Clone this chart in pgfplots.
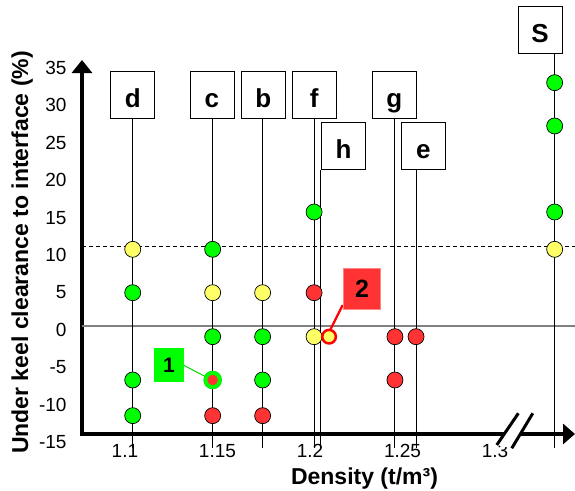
\documentclass[border=0pt]{standalone}
\usepackage{fontspec}
\setmainfont{Liberation Sans}
\usepackage{pgfplots}
\pgfplotsset{compat=1.18}
\usetikzlibrary{arrows.meta}

\definecolor{ptgreen}{RGB}{0,255,0}
\definecolor{ptyellow}{RGB}{255,255,102}
\definecolor{ptred}{RGB}{255,51,51}

\tikzset{
  lbl/.style={draw=black, line width=0.8pt, fill=white,
              minimum width=44pt, minimum height=47pt, inner sep=0pt,
              font=\bfseries\fontsize{26}{28}\selectfont,
              text height=24pt, text depth=0pt},
}
\pgfplotsset{
  stem/.style={black, line width=0.9pt, forget plot},
  dot/.style={only marks, mark=*, mark size=8pt},
}

\begin{document}
\begin{tikzpicture}[x=1pt,y=1pt]
\useasboundingbox (0,0) rectangle (575,490);
\begin{axis}[
  at={(82pt,56pt)}, anchor=south west,
  scale only axis, width=493pt, height=374pt,
  xmin=1.0768, xmax=1.3432, ymin=-15, ymax=35,
  clip=false,
  axis x line*=bottom, axis y line*=left,
  axis line style={line width=4.5pt, line cap=rect},
  x axis line style={-{Triangle[width=20pt,length=12pt]}},
  y axis line style={-{Triangle[width=20pt,length=13pt]}},
  xtick={1.1,1.15,1.2,1.25,1.3},
  xticklabels={1.1,1.15,1.2,1.25,1.3},
  ytick={-15,-10,-5,0,5,10,15,20,25,30,35},
  yticklabels={-15,-10,-5,0,5,10,15,20,25,30,35},
  major tick length=0pt,
  tick label style={font=\fontsize{19}{21}\selectfont},
  xticklabel style={yshift=-7pt},
  yticklabel style={xshift=-12pt, yshift=-8pt},
  /pgf/number format/assume math mode=true,
  xlabel={Density (t/m³)},
  xlabel style={at={(axis description cs:0.573,-0.136)}, anchor=base,
                font=\bfseries\fontsize{23}{25}\selectfont},
  ylabel={Under keel clearance to interface (\%)},
  ylabel style={at={(axis description cs:-0.1095,0.4853)}, anchor=base,
                font=\bfseries\fontsize{23}{25}\selectfont},
  after end axis/.code={
    % axis break on the density scale
    \fill[white] (axis cs:1.30092,-16.47) -- (axis cs:1.31259,-12.23)
                 -- (axis cs:1.32038,-12.23) -- (axis cs:1.30903,-16.91) -- cycle;
    \draw[line width=3pt] (axis cs:1.30092,-16.47) -- (axis cs:1.31259,-12.23);
    \draw[line width=3pt] (axis cs:1.30903,-16.91) -- (axis cs:1.32038,-12.23);
  },
]

% reference levels
\addplot[gray, line width=1.2pt, forget plot] coordinates {(1.0768,-0.56) (1.3432,-0.56)};
\addplot[black, line width=1pt, dash pattern=on 4pt off 3pt, forget plot]
  coordinates {(1.0768,10.13) (1.3432,10.13)};

% sample stems
\addplot[stem] coordinates {(1.1042,27.11) (1.1042,-16.87)};
\addplot[stem] coordinates {(1.1474,27.11) (1.1474,-16.87)};
\addplot[stem] coordinates {(1.1744,27.11) (1.1744,-16.87)};
\addplot[stem] coordinates {(1.2022,27.11) (1.2022,-16.87)};
\addplot[stem] coordinates {(1.2059,20.29) (1.2059,-16.87)};
\addplot[stem] coordinates {(1.2459,27.11) (1.2459,-16.87)};
\addplot[stem] coordinates {(1.2573,20.29) (1.2573,-16.87)};
\addplot[stem] coordinates {(1.3322,36.2) (1.3322,-16.87)};

% callout connectors
\draw[ptgreen!85!black, line width=1pt] (1.13151,-5.775) -- (1.14286,-7.246);
\draw[red, line width=2.2pt] (1.21768,2.246) -- (1.21043,-1.324);

% green outcomes
\addplot[dot, mark options={fill=ptgreen, draw=black, line width=0.7pt}] coordinates {
  (1.1042,3.89) (1.1042,-7.78) (1.1042,-12.55)
  (1.1474,9.69) (1.1474,-1.99)
  (1.1744,-1.99) (1.1744,-7.78)
  (1.2022,14.68)
  (1.3322,31.97) (1.3322,26.18) (1.3322,14.68)
};
% yellow outcomes
\addplot[dot, mark options={fill=ptyellow, draw=black, line width=0.7pt}] coordinates {
  (1.1042,9.69) (1.1474,3.89) (1.1744,3.89) (1.2022,-1.99) (1.3322,9.69)
};
% red outcomes
\addplot[dot, mark options={fill=ptred, draw=black, line width=0.7pt}] coordinates {
  (1.1474,-12.55) (1.1744,-12.55) (1.2022,3.89)
  (1.2459,-1.99) (1.2459,-7.78) (1.2573,-1.99)
};
% case 1
\addplot[only marks, mark=*, mark size=9pt,
  mark options={fill=ptgreen, draw=ptgreen!85!black, line width=0.5pt}] coordinates {(1.1474,-7.78)};
\addplot[only marks, mark=*, mark size=5pt,
  mark options={fill=ptred, draw=ptred}] coordinates {(1.1474,-7.78)};
% case 2
\addplot[only marks, mark=*, mark size=6.8pt,
  mark options={fill=ptyellow, draw=red, line width=2.5pt}] coordinates {(1.2103,-1.99)};

% sample labels
\node[lbl] at (1.1042,30.28) {d};
\node[lbl] at (1.1470,30.28) {c};
\node[lbl] at (1.1748,30.28) {b};
\node[lbl] at (1.2023,30.28) {f};
\node[lbl] at (1.2456,30.28) {g};
\node[lbl] at (1.2182,23.46) {h};
\node[lbl] at (1.2612,23.46) {e};
\node[lbl] at (1.3243,38.97) {S};

% callout labels
\node[fill=ptgreen, minimum width=30pt, minimum height=33.7pt, inner sep=0pt,
      font=\bfseries\fontsize{21}{23}\selectfont] at (1.12378,-5.762) {1};
\node[fill=ptred, draw=ptred!60!white, line width=1pt, minimum width=37.4pt,
      minimum height=41pt, inner sep=0pt,
      font=\bfseries\fontsize{25}{27}\selectfont] at (1.22811,4.412) {2};
\end{axis}
\end{tikzpicture}
\end{document}
